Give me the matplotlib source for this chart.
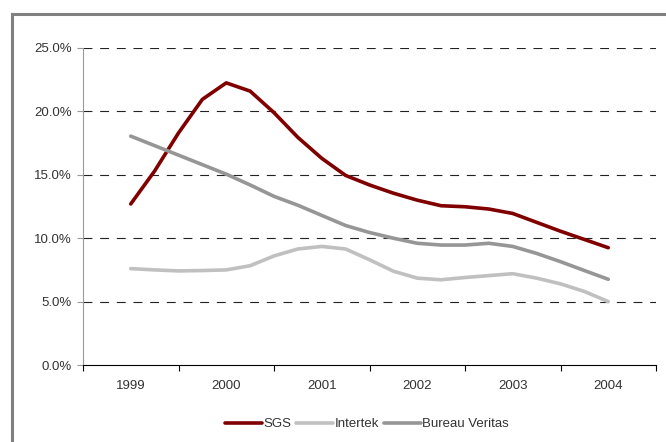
import matplotlib
matplotlib.use("Agg")
import matplotlib.pyplot as plt
import matplotlib.patches as mpatches
import numpy as np

# quarterly readings, 1999 to 2004 (in %)
quarters = np.arange(21) / 4.0
years = ['1999', '2000', '2001', '2002', '2003', '2004']

sgs = [12.7, 15.3, 18.3, 20.95, 22.25, 21.6, 19.9, 17.95, 16.3, 14.95, 14.2,
       13.55, 13.0, 12.56, 12.48, 12.3, 11.95, 11.25, 10.55, 9.9, 9.25]
intertek = [7.6, 7.5, 7.42, 7.45, 7.5, 7.83, 8.6, 9.15, 9.35, 9.15, 8.3,
            7.4, 6.85, 6.72, 6.9, 7.05, 7.2, 6.85, 6.4, 5.8, 5.0]
bureau_veritas = [18.05, 17.3, 16.55, 15.8, 15.05, 14.2, 13.3, 12.6, 11.8, 11.0, 10.45,
                  10.0, 9.6, 9.46, 9.46, 9.6, 9.35, 8.8, 8.15, 7.45, 6.76]

plt.rcParams['font.family'] = ['Liberation Sans', 'DejaVu Sans']

fig = plt.figure(figsize=(6.66, 4.42), dpi=100)
ax = fig.add_axes([83/666, 77/442, 573/666, 317/442])

line_kw = dict(lw=2.6, solid_joinstyle='round', solid_capstyle='round')
ax.plot(quarters, sgs, color='#800000', label='SGS', **line_kw)
ax.plot(quarters, intertek, color='#c0c0c0', label='Intertek', **line_kw)
ax.plot(quarters, bureau_veritas, color='#969696', label='Bureau Veritas', **line_kw)

ax.set_xlim(-0.5, 5.5)
ax.set_ylim(0, 25)

# category axis: ticks between years, labels at centres
ax.set_xticks(np.arange(-0.5, 6, 1))
ax.set_xticklabels([])
ax.set_xticks(np.arange(6), minor=True)
ax.set_xticklabels(years, minor=True)
ax.tick_params(axis='x', which='major', length=4, width=0.8, direction='out', color='black')
ax.tick_params(axis='x', which='minor', length=0, pad=11, labelsize=9.5, labelcolor='#333333')

ax.set_yticks(np.arange(0, 26, 5))
ax.set_yticklabels([f'{v:.1f}%' for v in np.arange(0, 26, 5)])
ax.tick_params(axis='y', length=4, width=0.8, direction='out', color='#999999',
               labelsize=9.5, labelcolor='#333333', pad=4)

for v in np.arange(5, 26, 5):
    ax.axhline(v, color='#222222', lw=0.8, dashes=(8, 7), zorder=0)

for s in ['top', 'right']:
    ax.spines[s].set_visible(False)
ax.spines['left'].set_color('#999999')
ax.spines['left'].set_linewidth(0.8)
ax.spines['bottom'].set_color('black')
ax.spines['bottom'].set_linewidth(0.8)

leg = fig.legend(loc='center', bbox_to_anchor=(367/666, 1 - 424/442), ncol=3, frameon=False,
                 fontsize=9.5, handlelength=2.8, handletextpad=0.1, columnspacing=0.35)
for t in leg.get_texts():
    t.set_color('#333333')

# outer grey frame
frame = mpatches.Rectangle((11.5/666, -0.2), 1.5, 1.2 - 13.5/442, transform=fig.transFigure,
                           fill=False, edgecolor='#808080', lw=2.2)
fig.patches.append(frame)

fig.savefig('out.png', dpi=100)
